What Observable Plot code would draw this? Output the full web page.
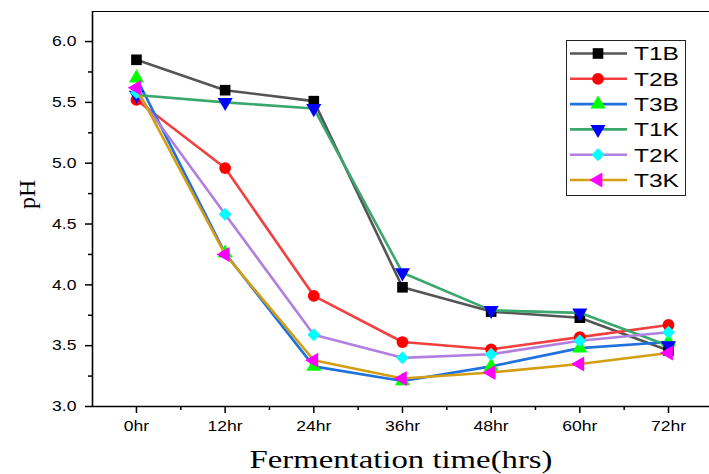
<!DOCTYPE html>
<html>
<head>
<meta charset="utf-8">
<script src="https://cdn.jsdelivr.net/npm/d3@7"></script>
<script src="https://cdn.jsdelivr.net/npm/@observablehq/plot@0.6"></script>
<style>
  html, body { margin: 0; padding: 0; background: #fff; }
  #wrap { position: relative; width: 709px; height: 474px; }
  #legend { position: absolute; left: 566px; top: 40px; }
</style>
</head>
<body>
<div id="wrap"></div>
<script>
// ---- data ----
const hours = [0, 12, 24, 36, 48, 60, 72];
const tickLabels = ["0hr", "12hr", "24hr", "36hr", "48hr", "60hr", "72hr"];
const seriesNames = ["T1B", "T2B", "T3B", "T1K", "T2K", "T3K"];
const T1B = [5.85, 5.60, 5.51, 3.98, 3.78, 3.73, 3.46];
const T2B = [5.52, 4.96, 3.91, 3.53, 3.47, 3.57, 3.67];
const T3B = [5.70, 4.26, 3.33, 3.21, 3.33, 3.48, 3.53];
const T1K = [5.56, 5.50, 5.45, 4.10, 3.79, 3.77, 3.50];
const T2K = [5.58, 4.58, 3.59, 3.40, 3.43, 3.54, 3.61];
const T3K = [5.62, 4.25, 3.38, 3.23, 3.28, 3.35, 3.44];
const seriesValues = [T1B, T2B, T3B, T1K, T2K, T3K];

// ---- styles ----
const lineColors = ["#555555", "#f2403f", "#1f72de", "#3aa76d", "#b07fe0", "#d39e12"];
const markColors = ["#000000", "#ff0000", "#00ff00", "#0000ff", "#00ffff", "#ff00ff"];
const symbols = ["square", "circle", "triangle", "triangle", "diamond2", "triangle"];
const rotations = [0, 0, 0, 180, 0, -90];
const radii = [6, 5.9, 5.6, 5.6, 5.8, 5.6];

const xDomain = [-5.95, 77.55];
const yDomain = [3.0, 6.247];
const sans = "Liberation Sans, Arial, sans-serif";
const serif = "Liberation Serif, Times New Roman, serif";

const table = [];
seriesNames.forEach((s, i) => hours.forEach((h, j) => table.push({series: s, hour: h, pH: seriesValues[i][j]})));

const marks = [
  Plot.axisY({ticks: d3.range(3.0, 6.01, 0.5), tickSize: 7, tickPadding: 9, tickFormat: d3.format(".1f"),
    fontSize: 15, fontFamily: sans, label: null, stroke: "#000", strokeWidth: 1.5, fill: "#000", className: "tk"}),
  Plot.axisY({ticks: d3.range(3.25, 6.0, 0.5), tickSize: 4, tickFormat: () => "", label: null, stroke: "#000", strokeWidth: 1.5}),
  Plot.axisX({ticks: hours, tickSize: 7, tickPadding: 7, tickFormat: (d) => tickLabels[hours.indexOf(d)],
    fontSize: 15, fontFamily: sans, label: null, stroke: "#000", strokeWidth: 1.5, fill: "#000", className: "tk"}),
  Plot.axisX({ticks: d3.range(6, 78, 12), tickSize: 4, tickFormat: () => "", label: null, stroke: "#000", strokeWidth: 1.5}),
  Plot.ruleY([yDomain[0]], {stroke: "#000", strokeWidth: 1.6}),
  Plot.ruleY([yDomain[1]], {stroke: "#000", strokeWidth: 1.2}),
  Plot.ruleX([xDomain[0]], {stroke: "#000", strokeWidth: 1.6}),
  Plot.text(["pH"], {frameAnchor: "left", rotate: -90, dx: -65, fontSize: 24, fontFamily: serif, fill: "#000"}),
  Plot.text(["Fermentation time(hrs)"], {frameAnchor: "bottom", lineAnchor: "bottom", dy: 61, fontSize: 26, fontFamily: serif, fill: "#000", className: "xlab"})
];
seriesNames.forEach((s, i) => {
  const rows = table.filter(d => d.series === s);
  marks.push(Plot.line(rows, {x: "hour", y: "pH", stroke: lineColors[i], strokeWidth: 2.6}));
  marks.push(Plot.dot(rows, {x: "hour", y: "pH", symbol: symbols[i], rotate: rotations[i], r: radii[i], fill: markColors[i], stroke: "none"}));
});

const chart = Plot.plot({
  width: 709, height: 474,
  marginLeft: 92, marginRight: 0, marginTop: 11, marginBottom: 68,
  x: {type: "linear", domain: xDomain},
  y: {domain: yDomain},
  style: {background: "#fff"},
  marks
});
const wrap = document.getElementById("wrap");
wrap.appendChild(chart);

// horizontally widen the text like the reference rendering
function widen(sel, factor, fixed) {
  sel.each(function() {
    const len = this.getComputedTextLength();
    if (!len) return;
    this.setAttribute("textLength", fixed || len * factor);
    this.setAttribute("lengthAdjust", "spacingAndGlyphs");
  });
}
widen(d3.select(chart).selectAll("g.tk text"), 1.17);
widen(d3.select(chart).selectAll("g.xlab text"), 1, 303);

// ---- legend ----
const symMap = {square: d3.symbolSquare, circle: d3.symbolCircle, triangle: d3.symbolTriangle, diamond2: d3.symbolDiamond2};
const lg = d3.select(wrap).append("svg").attr("id", "legend").attr("width", 120).attr("height", 157);
lg.append("rect").attr("x", 0.5).attr("y", 0.5).attr("width", 119).attr("height", 155).attr("fill", "#fff").attr("stroke", "#222").attr("stroke-width", 1);
seriesNames.forEach((s, i) => {
  const y = 13.5 + i * 25.3;
  const g = lg.append("g").attr("transform", `translate(0,${y})`);
  g.append("line").attr("x1", 4).attr("x2", 61).attr("stroke", lineColors[i]).attr("stroke-width", 2.6);
  const r = radii[i];
  g.append("path").attr("d", d3.symbol(symMap[symbols[i]], Math.PI * r * r)())
    .attr("transform", `translate(32,0) rotate(${rotations[i]})`).attr("fill", markColors[i]);
  g.append("text").attr("x", 68).attr("dy", "0.36em").attr("font-size", 19)
    .attr("font-family", sans).attr("fill", "#000").text(s)
    .attr("textLength", 45).attr("lengthAdjust", "spacingAndGlyphs");
});
</script>
</body>
</html>
